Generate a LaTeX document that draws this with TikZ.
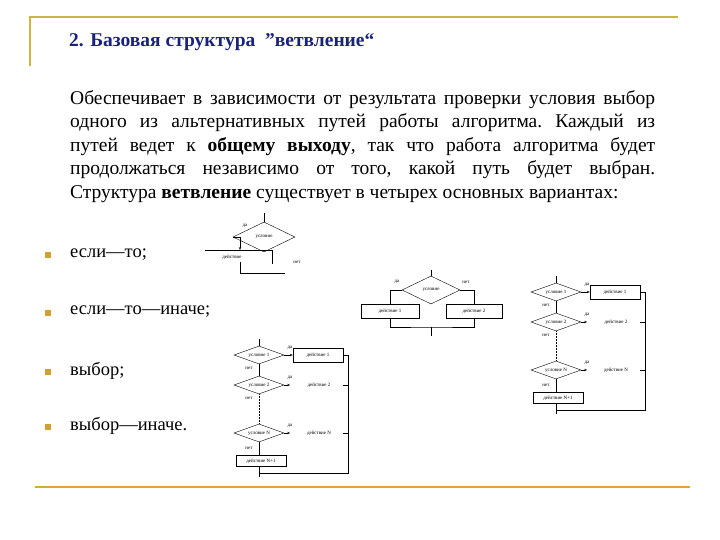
\documentclass[tikz,border=0pt]{standalone}
\usepackage{fontspec}
\setmainfont{Liberation Serif}
\usetikzlibrary{shapes.geometric,arrows.meta}
\definecolor{gold}{HTML}{CDB444}
\definecolor{bulgold}{HTML}{D0A030}
\definecolor{navy}{HTML}{1A237A}
\tikzset{
 lab/.style={font=\fontsize{5}{5}\selectfont,inner sep=0.5pt},
 cond/.style={diamond,draw,aspect=3,inner sep=0pt,minimum width=50pt,minimum height=18pt,font=\fontsize{5}{5}\selectfont},
 act/.style={draw,minimum width=50pt,minimum height=14pt,inner sep=0pt,font=\fontsize{5}{5}\selectfont},
 ln/.style={line width=0.5pt},
 bul/.style={fill=bulgold,minimum size=6pt,inner sep=0pt},
 item/.style={anchor=west,font=\fontsize{18.5}{18}\selectfont,inner sep=0pt}
}
\begin{document}
\begin{tikzpicture}[x=1pt,y=-1pt]
\useasboundingbox (0,0) rectangle (720,540);
\draw[gold,line width=1.2pt] (678,17) coordinate (v0) -- (30,17) coordinate (v1) -- (30,66) coordinate (v2);
\draw[gold!80!orange,line width=1.5pt] (35,487) coordinate (h1) -- (690,487) coordinate (h2);
\node[anchor=west,inner sep=0,text=navy,font=\bfseries\fontsize{19.5}{20}\selectfont] (title) at (69,42) {2. Базовая структура \ "ветвление“};
\node[anchor=north west,inner sep=0,text width=585pt,align=justify,font=\frenchspacing\fontsize{19.5}{23.6}\selectfont] (para) at (70,90)
{Обеспечивает в зависимости от результата проверки условия выбор\linebreak одного из альтернативных путей работы алгоритма. Каждый из\linebreak путей ведет к \textbf{общему выходу}, так что работа алгоритма будет\linebreak продолжаться независимо от того, какой путь будет выбран.\linebreak Структура \textbf{ветвление} существует в четырех основных вариантах:};
\node[bul] (b1) at (48,255) {}; \node[item] (t1) at (70,255) {если—то;};
\node[bul] (b2) at (48,313) {}; \node[item] (t2) at (70,312) {если—то—иначе;};
\node[bul] (b3) at (48,372) {}; \node[item] (t3) at (70,371) {выбор;};
\node[bul] (b4) at (48,427) {}; \node[item] (t4) at (70,426) {выбор—иначе.};
% diagram 1
\node[cond,minimum width=62pt,minimum height=30pt] (c1) at (264,237) {условие};
\coordinate (c1t) at (264,213);
\draw[ln] (c1t) -- (c1.north);
\node[lab] (da1) at (245,226) {да};
\coordinate (c1l) at (240,237); \coordinate (a1t) at (240,250);
\draw[ln,-{Stealth[length=3pt]}] (c1.west) -- (c1l) -- (a1t);
\coordinate (a1a) at (205,250); \coordinate (a1b) at (272,250); \coordinate (a1c) at (272,264);
\draw[ln] (a1a) -- (a1b) -- (a1c);
\node[lab] (d1) at (232,257) {действие};
\coordinate (a1d) at (240,262); \coordinate (a1e) at (240,273); \coordinate (a1f) at (285,273);
\draw[ln] (a1d) -- (a1e) -- (a1f);
\node[lab] (net1) at (297,262) {нет};
% diagram 2
\node[cond,minimum width=58pt,minimum height=28pt] (c2) at (431,290) {условие};
\coordinate (c2t) at (431,270); \draw[ln] (c2t) -- (c2.north);
\node[lab] (da2) at (397,282) {да}; \node[lab] (net2) at (466,282) {нет};
\node[act,minimum width=58pt] (a21) at (390,311) {действие 1};
\node[act,minimum width=56pt] (a22) at (474,311) {действие 2};
\draw[ln] (c2.west) -| (a21.north);
\draw[ln] (c2.east) -| (a22.north);
\coordinate (j2) at (431,327); \coordinate (j2b) at (431,336);
\draw[ln] (a21.south) |- (j2) -| (a22.south);
\draw[ln] (j2) -- (j2b);
% diagrams 3 and 4
\foreach \dx/\dy/\p in {0/0/r,-297/63/l}{
\begin{scope}[shift={(\dx,\dy)}]
\coordinate (\p top) at (556,276);
\node[cond] (\p c1) at (556,292) {условие 1};
\node[cond] (\p c2) at (556,322) {условие 2};
\node[cond] (\p cn) at (556,370) {условие N};
\node[act] (\p a1) at (615,292) {действие 1};
\node[lab] (\p a2) at (616,322) {действие 2};
\node[lab] (\p an) at (616,370) {действие N};
\node[act,minimum width=50pt,minimum height=11pt,line width=0.8pt] (\p ae) at (558,398) {действие N+1};
\coordinate (\p bot) at (556,410); \coordinate (\p bot2) at (556,414);
\coordinate (\p rt) at (645,292); \coordinate (\p rb) at (645,410);
\coordinate (\p ra2) at (645,322); \coordinate (\p ran) at (645,370);
\draw[ln] (\p top) -- (\p c1.north);
\draw[ln] (\p c1.south) -- (\p c2.north);
\draw[ln,densely dotted] (\p c2.south) -- (\p cn.north);
\draw[ln] (\p cn.south) -- (\p ae.north -| \p cn.south);
\draw[ln,-{Stealth[length=3pt]}] (\p c1.east) -- (\p a1.west);
\draw[ln,-{Stealth[length=3pt]}] (\p c2.east) -- ([xshift=6pt]\p c2.east);
\draw[ln,-{Stealth[length=3pt]}] (\p cn.east) -- ([xshift=6pt]\p cn.east);
\draw[ln] (\p a1.east) -- (\p rt) -- (\p rb) -- (\p bot);
\draw[ln] (\p ae.south -| \p bot) -- (\p bot2);
\draw[ln] (\p ra2) -- ++(-5,0); \draw[ln] (\p ran) -- ++(-5,0);
\node[lab] (\p y1) at (587,285) {да}; \node[lab] (\p y2) at (587,315) {да}; \node[lab] (\p yn) at (587,363) {да};
\node[lab] (\p n1) at (546,305) {нет}; \node[lab] (\p n2) at (546,335) {нет}; \node[lab] (\p nn) at (546,385) {нет};
\end{scope}}
\end{tikzpicture}
\end{document}
